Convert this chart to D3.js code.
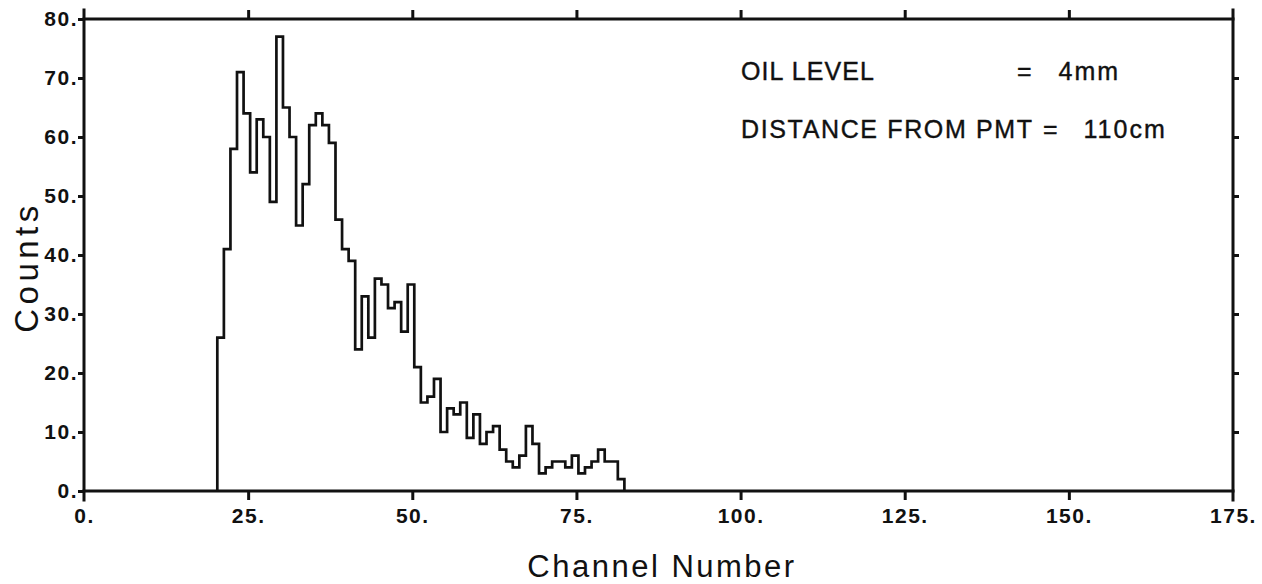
<!DOCTYPE html>
<html>
<head>
<meta charset="utf-8">
<script src="https://cdn.jsdelivr.net/npm/d3@7"></script>
<style>
  body { margin: 0; background: #fff; }
  svg { display: block; }
  .tick text { font-family: "Liberation Sans", Arial, sans-serif; font-weight: bold; fill: #111; }
</style>
</head>
<body>
<svg id="chart" width="1262" height="584"></svg>
<script>
// channel numbers (bin left edges, width 1) and counts per channel
var channels = [20,21,22,23,24,25,26,27,28,29,30,31,32,33,34,35,36,37,38,39,40,
                41,42,43,44,45,46,47,48,49,50,51,52,53,54,55,56,57,58,59,60,
                61,62,63,64,65,66,67,68,69,70,71,72,73,74,75,76,77,78,79,80,81];
var counts = [26,41,58,71,64,54,63,60,49,77,65,60,45,52,62,64,62,59,46,41,39,
              24,33,26,36,35,31,32,27,35,21,15,16,19,10,14,13,15,9,13,8,
              10,11,7,5,4,6,11,8,3,4,5,5,4,6,3,4,5,7,5,5,2];
var xTicks = [0,25,50,75,100,125,150,175];
var yTicks = [0,10,20,30,40,50,60,70,80];
var noteLabels = ["OIL LEVEL", "DISTANCE FROM PMT"];
var noteValues = ["= 4mm", "= 110cm"];

var svg = d3.select("#chart");
var mLeft = 84, mRight = 1233, mTop = 19, mBottom = 491;
var ink = "#111";

var x = d3.scaleLinear().domain([0, 175]).range([mLeft, mRight]);
var y = d3.scaleLinear().domain([0, 80]).range([mBottom, mTop]);
var fmt = function(d){ return d + "."; };

// frame
var frame = svg.append("g").attr("stroke", ink).attr("stroke-width", 3).attr("stroke-linecap", "square");
frame.append("line").attr("x1", x(0)).attr("x2", x(0)).attr("y1", y(80) - 9).attr("y2", y(0) + 9);
frame.append("line").attr("x1", x(175)).attr("x2", x(175)).attr("y1", y(80) - 9).attr("y2", y(0) + 9);
frame.append("line").attr("x1", x(0)).attr("x2", x(175)).attr("y1", y(80)).attr("y2", y(80));
frame.append("line").attr("x1", x(0)).attr("x2", x(175)).attr("y1", y(0)).attr("y2", y(0));

var styleAxis = function(g){
  g.select(".domain").remove();
  g.selectAll(".tick line").attr("stroke", ink).attr("stroke-width", 3);
};

svg.append("g").attr("transform", "translate(0," + mBottom + ")")
  .call(d3.axisBottom(x).tickValues(xTicks).tickFormat(fmt).tickSize(9).tickPadding(8))
  .call(styleAxis)
  .call(function(g){
    g.selectAll(".tick line").filter(function(d){ return d === 0 || d === 175; }).remove();
    g.selectAll(".tick text").attr("font-size", 21).attr("letter-spacing", 1.5);
  });

svg.append("g").attr("transform", "translate(0," + mTop + ")")
  .call(d3.axisTop(x).tickValues(xTicks.slice(1, -1)).tickFormat("").tickSize(9))
  .call(styleAxis);

svg.append("g").attr("transform", "translate(" + mLeft + ",0)")
  .call(d3.axisLeft(y).tickValues(yTicks).tickFormat(fmt).tickSize(6).tickPadding(0))
  .call(styleAxis)
  .call(function(g){
    g.selectAll(".tick text").attr("font-size", 21).attr("letter-spacing", 1.5);
  });

svg.append("g").attr("transform", "translate(" + mRight + ",0)")
  .call(d3.axisRight(y).tickValues(yTicks.slice(1, -1)).tickFormat("").tickSize(6))
  .call(styleAxis);

// histogram outline
var pts = [[channels[0], 0]];
channels.forEach(function(c, i){ pts.push([c, counts[i]]); });
pts.push([channels[channels.length - 1] + 1, 0]);

var line = d3.line()
  .x(function(d){ return x(d[0]) + 2; })
  .y(function(d){ return y(d[1]); })
  .curve(d3.curveStepAfter);

svg.append("path")
  .datum(pts)
  .attr("d", line)
  .attr("fill", "none")
  .attr("stroke", ink)
  .attr("stroke-width", 2.7);

// axis titles
svg.append("text")
  .attr("x", 662)
  .attr("y", 577)
  .attr("text-anchor", "middle")
  .attr("font-family", "Liberation Sans, Arial, sans-serif")
  .attr("font-size", 31)
  .attr("letter-spacing", 2.5)
  .attr("fill", ink)
  .text("Channel Number");

svg.append("text")
  .attr("transform", "translate(38,267) rotate(-90)")
  .attr("text-anchor", "middle")
  .attr("font-family", "Liberation Sans, Arial, sans-serif")
  .attr("font-size", 33)
  .attr("letter-spacing", 4.5)
  .attr("fill", ink)
  .text("Counts");

// annotation block
var notes = svg.append("g")
  .attr("font-family", "Liberation Sans, Arial, sans-serif")
  .attr("font-size", 25)
  .attr("fill", ink)
  .attr("stroke", ink)
  .attr("stroke-width", 0.4);
notes.selectAll("text.lab").data(noteLabels).enter().append("text")
  .attr("class", "lab")
  .attr("x", 741)
  .attr("y", function(d, i){ return 80 + i * 58; })
  .attr("textLength", function(d, i){ return i === 0 ? 133 : 291; })
  .attr("lengthAdjust", "spacing")
  .text(function(d){ return d; });
notes.selectAll("text.val").data(noteValues).enter().append("text")
  .attr("class", "val")
  .attr("x", function(d, i){ return i === 0 ? 1017 : 1043; })
  .attr("y", function(d, i){ return 80 + i * 58; })
  .attr("letter-spacing", 2)
  .attr("word-spacing", function(d, i){ return i === 0 ? 16 : 15; })
  .text(function(d){ return d; });
</script>
</body>
</html>
